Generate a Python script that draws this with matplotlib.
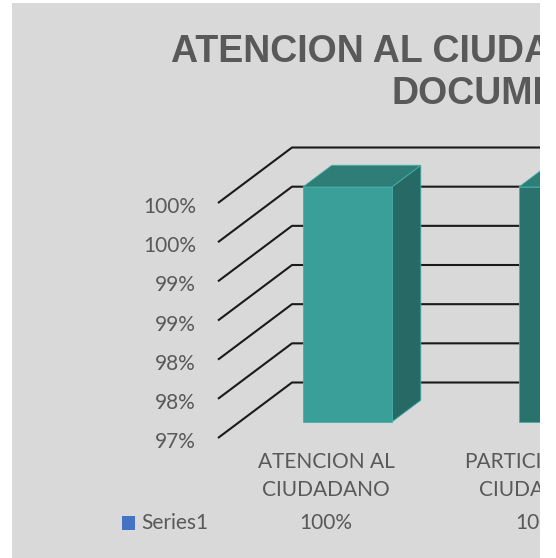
import matplotlib
matplotlib.use("Agg")
import matplotlib.pyplot as plt
from matplotlib.patches import Polygon, Rectangle
from matplotlib import transforms

# ---- data ----
categories = [["ATENCION AL", "CIUDADANO"], ["PARTICIPACION", "CIUDADANA"]]
values = [100, 100]
value_labels = ["100%", "100%"]
series_name = "Series1"
yticks = [97.0, 97.5, 98.0, 98.5, 99.0, 99.5, 100.0]
ytick_labels = ["97%", "98%", "98%", "99%", "99%", "100%", "100%"]
title_line1 = "ATENCION AL CIUDADANO"
title_line2 = "DOCUMENTOS"

W, H = 556, 558
fig = plt.figure(figsize=(W / 100, H / 100), dpi=100)
fig.patch.set_facecolor("#D9D9D9")

ax = fig.add_axes([0, 0, 1, 1])
ax.axis("off")

# scales: 216 px per category, 78.33 px per percent point
XS = 216.0
YS = 78.33
x_center0 = 326.0          # pixel x of category 0 center (front plane)
y97_from_bottom = H - 438  # pixel of 97% at the front plane
ax.set_xlim(-x_center0 / XS, (W - x_center0) / XS)
ax.set_ylim(yticks[0] - y97_from_bottom / YS, yticks[0] + (H - y97_from_bottom) / YS)
xmax = ax.get_xlim()[1]

# oblique depth vector (full depth)
DX = 74 / XS
DY = 55.5 / YS
base = yticks[0]

grid_c = "#1A1A1A"
for v in yticks:
    ax.plot([-0.5, -0.5 + DX, xmax], [v, v + DY, v + DY],
            color=grid_c, lw=1.5, solid_capstyle="butt", zorder=1)

# bars
bw = 0.412
d0, d1 = 0.29, 0.68
front_cols = ["#3A9E99", "#2A736D"]
top_col = "#2E7D76"
side_col = "#276A65"
edge_col = "#45B0A8"
for i, val in enumerate(values):
    l, r = i - bw / 2, i + bw / 2
    ox0, oy0 = DX * d0, DY * d0
    ox1, oy1 = DX * d1, DY * d1
    side = [(r + ox0, base + oy0), (r + ox1, base + oy1),
            (r + ox1, val + oy1), (r + ox0, val + oy0)]
    top = [(l + ox0, val + oy0), (r + ox0, val + oy0),
           (r + ox1, val + oy1), (l + ox1, val + oy1)]
    front = [(l + ox0, base + oy0), (r + ox0, base + oy0),
             (r + ox0, val + oy0), (l + ox0, val + oy0)]
    ax.add_patch(Polygon(side, closed=True, fc=side_col, ec=edge_col, lw=0.6, zorder=3))
    ax.add_patch(Polygon(top, closed=True, fc=top_col, ec=edge_col, lw=0.6, zorder=3))
    ax.add_patch(Polygon(front, closed=True, fc=front_cols[i], ec=edge_col, lw=0.6, zorder=4))

txt_c = "#595959"
lab_font = "Lato"
fs = 15
# y tick labels at the front ends of the gridlines
for v, lab in zip(yticks, ytick_labels):
    ax.text(-0.5 - 22 / XS, v - 4 / YS, lab, ha="right", va="center",
            fontsize=fs, color=txt_c, family=lab_font, zorder=5)

# category labels and data table row
bt = transforms.blended_transform_factory(ax.transData, fig.transFigure)
for i, (cat, vl) in enumerate(zip(categories, value_labels)):
    for line, ypx in zip(cat, [462, 490]):
        ax.text(i, 1 - ypx / H, line, transform=bt, ha="center", va="center",
                fontsize=fs, color=txt_c, family=lab_font)
    ax.text(i, 1 - 523 / H, vl, transform=bt, ha="center", va="center",
            fontsize=fs, color=txt_c, family=lab_font)

fig.patches.append(Rectangle((122 / W, 1 - 530 / H), 13 / W, 14 / H,
                             transform=fig.transFigure, fc="#4472C4", ec="none", zorder=5))
fig.text(141 / W, 1 - 523 / H, series_name, ha="left", va="center",
         fontsize=fs, color=txt_c, family=lab_font)

# title
fig.text(171 / W, 1 - 62 / H, title_line1, ha="left", va="baseline",
         fontsize=27, fontweight="bold", color=txt_c, family="Liberation Sans")
fig.text(391 / W, 1 - 104 / H, title_line2, ha="left", va="baseline",
         fontsize=27, fontweight="bold", color=txt_c, family="Liberation Sans")

# white margins (cropped screenshot)
for (x, y, w, h) in [(540, 0, 16, H), (0, 0, 12.3, H), (0, 0, W, 2.7)]:
    fig.patches.append(Rectangle((x / W, 1 - (y + h) / H), w / W, h / H,
                                 transform=fig.transFigure, fc="white", ec="none", zorder=20))

fig.savefig("out.png", dpi=100, facecolor=fig.get_facecolor())
